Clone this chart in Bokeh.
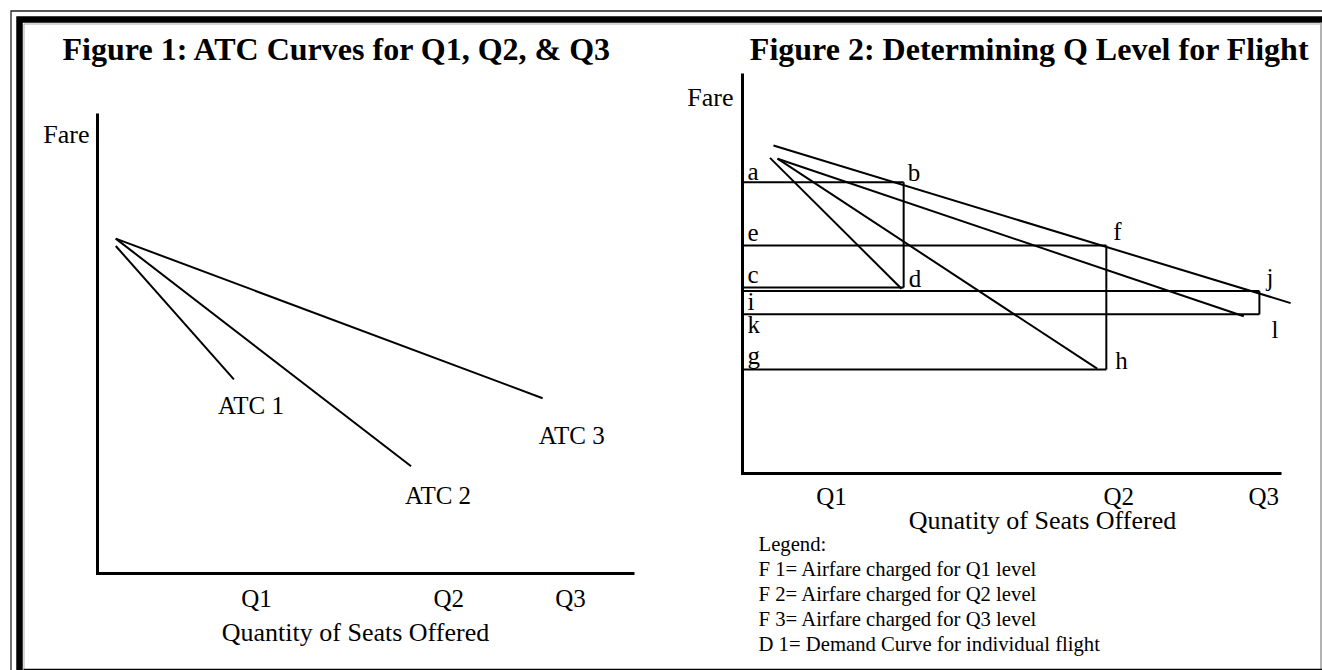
from bokeh.plotting import figure
from bokeh.models import Range1d, ColumnDataSource
from bokeh.core.properties import value
from bokeh.embed import file_html
from bokeh.resources import INLINE

# ---------------- data: Figure 1 (units = % of each axis length) ----------------
fig1_title = "Figure 1: ATC Curves for Q1, Q2, & Q3"
fig1_xlabel = "Quantity of Seats Offered"
fig1_ylabel = "Fare"
atc_labels = ["ATC 1", "ATC 2", "ATC 3"]
atc_q0 = [3.4, 3.4, 3.4]
atc_f0 = [71.2, 72.8, 72.8]
atc_q1 = [25.4, 58.4, 82.9]
atc_f1 = [42.2, 23.3, 38.1]
fig1_q_ticks = [29.6, 65.4, 88.1]
q_tick_labels = ["Q1", "Q2", "Q3"]

# ---------------- data: Figure 2 ----------------
fig2_title = "Figure 2: Determining Q Level for Flight"
fig2_xlabel = "Qunatity of Seats Offered"
fig2_ylabel = "Fare"
demand_q = [5.75, 101.7]
demand_f = [82.0, 42.6]
atc2_q0 = [5.1, 6.5, 6.5]
atc2_f0 = [78.9, 78.7, 78.7]
atc2_q1 = [29.5, 65.8, 93.0]
atc2_f1 = [46.2, 26.2, 39.3]
level_q = [29.9, 67.5, 95.9]      # quantities Q1, Q2, Q3 (b, f, j)
level_fare = [72.8, 57.0, 45.6]   # fares on demand (a, e, i)
level_cost = [46.5, 26.0, 39.8]   # average costs (c, g, k)
fare_letters = ["a", "e", "i"]
demand_letters = ["b", "f", "j"]
cost_letters = ["c", "g", "k"]
corner_letters = ["d", "h", "l"]
fig2_q_ticks = [16.5, 69.8, 96.7]
legend_lines = [
    "Legend:",
    "F 1= Airfare charged for Q1 level",
    "F 2= Airfare charged for Q2 level",
    "F 3= Airfare charged for Q3 level",
    "D 1= Demand Curve for individual flight",
]
axis_q = [0, 0, 100]
axis_f = [100, 0, 0]

# ---------------- layout (page pixels) ----------------
W, H = 1322, 670
X0, Y0 = 0, 0
P1 = dict(left=97, right=634, top=113, bottom=573)
P2 = dict(left=742, right=1281, top=73, bottom=473)
SERIF = value("Liberation Serif")

p = figure(width=W, height=H, output_backend="svg", toolbar_location=None,
           x_range=Range1d(X0, X0 + W), y_range=Range1d(Y0 + H, Y0),
           min_border=0, outline_line_color=None)
p.axis.visible = False
p.grid.visible = False


def add_ranges(name, box):
    sx = (box["right"] - box["left"]) / 100.0
    sy = (box["bottom"] - box["top"]) / 100.0
    p.extra_x_ranges[name + "x"] = Range1d((X0 - box["left"]) / sx, (X0 + W - box["left"]) / sx)
    p.extra_y_ranges[name + "y"] = Range1d((box["bottom"] - (Y0 + H)) / sy, (box["bottom"] - Y0) / sy)
    return dict(x_range_name=name + "x", y_range_name=name + "y")


r1 = add_ranges("p1", P1)
r2 = add_ranges("p2", P2)

# ---------------- border decoration (page pixels) ----------------
p.line([10.5, 10.5, W], [H, 10.5, 10.5], line_color="#222222", line_width=1.3, line_join="miter")
p.line([19, 19, W], [H, 19, 19], line_color="black", line_width=6.5, line_join="miter")
p.line([23.5, 23.5, W - 2], [H, 23.5, 23.5], line_color="#aaaaaa", line_width=1)
p.line([1320.5, 1320.5], [22, H], line_color="#999999", line_width=1.5)
p.line([23, W], [669, 669], line_color="black", line_width=1.5)

txt = dict(text_font=SERIF, text_color="black", text_baseline="alphabetic")

# ---------------- Figure 1 ----------------
p.text([337], [48], text=[fig1_title], text_align="center",
       text_font_size="32px", text_font_style="bold", **txt)
p.line(axis_q, axis_f, line_color="black", line_width=3, line_join="miter", **r1)
p.text([0], [100], text=[fig1_ylabel], text_align="right",
       x_offset=-8, y_offset=21, text_font_size="26px", **txt, **r1)
src1 = ColumnDataSource(dict(q0=atc_q0, f0=atc_f0, q1=atc_q1, f1=atc_f1, lab=atc_labels,
                             xo=[-16, -6, -4], yo=[26, 29, 37]))
p.segment("q0", "f0", "q1", "f1", source=src1, line_color="black", line_width=2, **r1)
p.text("q1", "f1", text="lab", source=src1, x_offset="xo", y_offset="yo", text_align="left",
       text_font_size="25px", **txt, **r1)
p.text(fig1_q_ticks, [0, 0, 0], text=q_tick_labels, text_align="center",
       y_offset=25, text_font_size="25px", **txt, **r1)
p.text([355], [632], text=[fig1_xlabel], text_align="center",
       text_font_size="26px", **txt)

# ---------------- Figure 2 ----------------
p.text([1029], [48], text=[fig2_title], text_align="center",
       text_font_size="32px", text_font_style="bold", **txt)
p.line(axis_q, axis_f, line_color="black", line_width=3, line_join="miter", **r2)
p.text([0], [100], text=[fig2_ylabel], text_align="right",
       x_offset=-9, y_offset=24, text_font_size="26px", **txt, **r2)
p.line(demand_q, demand_f, line_color="black", line_width=2, **r2)
src2 = ColumnDataSource(dict(q0=atc2_q0, f0=atc2_f0, q1=atc2_q1, f1=atc2_f1))
p.segment("q0", "f0", "q1", "f1", source=src2, line_color="black", line_width=2, **r2)

zeros = [0, 0, 0]
# fare levels (a-b, e-f, i-j) and cost levels (c-d, g-h, k-l)
p.segment(zeros, level_fare, level_q, level_fare, line_color="black", line_width=2, **r2)
p.segment(zeros, level_cost, level_q, level_cost, line_color="black", line_width=2, **r2)
p.segment(level_q, level_fare, level_q, level_cost, line_color="black", line_width=2, **r2)

lt = dict(text_font_size="25px", text_align="left", **txt, **r2)
p.text(zeros, level_fare, text=fare_letters, x_offset=5, y_offset=[-11, -13, 10], **lt)
p.text(zeros, level_cost, text=cost_letters, x_offset=5, y_offset=[-13, -14, 10], **lt)
p.text(level_q, level_fare, text=demand_letters, x_offset=[4, 7, 7], y_offset=[-10, -14, -14], **lt)
p.text(level_q, level_cost, text=corner_letters, x_offset=[5, 9, 12], y_offset=[-9, -9, 15], **lt)

p.text(fig2_q_ticks, zeros, text=q_tick_labels, text_align="center",
       y_offset=23, text_font_size="25px", **txt, **r2)
p.text([1042], [520], text=[fig2_xlabel], text_align="center",
       text_font_size="26px", **txt)
p.text([758] * len(legend_lines), [543, 568, 593, 618, 643], text=legend_lines, text_align="left",
       text_font_size="20.7px", **txt)

open("out.html", "w").write(file_html(p, INLINE))
